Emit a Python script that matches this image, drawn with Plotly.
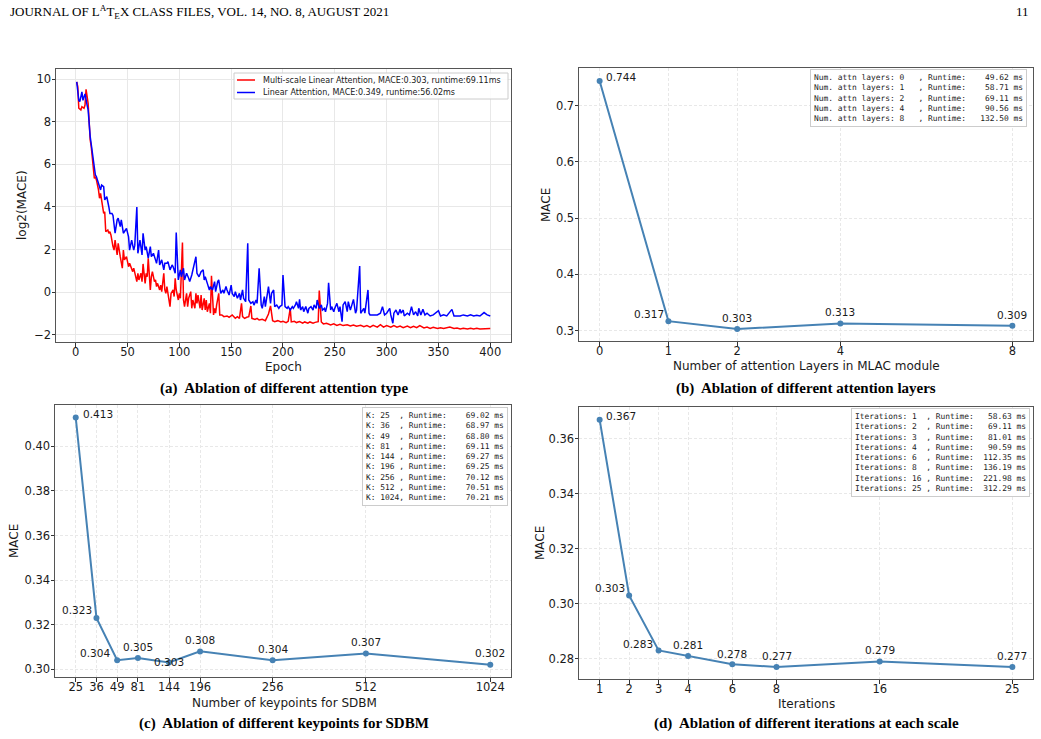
import plotly.graph_objects as go

# ---------------- data ----------------
red_epoch = [1,2,3,5,6,8,9,10,12,13,14,15,16,18,19,20,22,23,24,25,27,28,29,31,32,33,34,36,37,38,40,41,42,43,45,46,47,49,50,51,52,54,55,56,58,59,60,61,63,64,65,67,68,69,70,72,73,74,76,77,78,79,81,82,83,85,86,87,88,90,91,92,94,95,96,97,99,100,101,103,104,105,107,108,109,111,112,113,115,116,117,118,120,121,122,124,125,126,127,129,130,131,133,134,135,136,138,139,141,143,146,148,151,154,156,158,160,161,163,165,167,169,170,173,175,177,180,183,184,186,188,190,192,195,198,200,203,205,207,208,211,213,216,219,221,224,226,229,231,234,235,237,239,242,246,249,252,255,258,262,265,268,271,275,278,281,284,287,291,294,297,300,304,307,310,313,316,320,323,326,329,332,336,339,342,345,349,352,355,358,361,365,368,371,374,378,381,384,387,390,394,397,400]
red_val = [9.87,9.64,8.63,8.55,8.70,8.63,8.78,9.52,8.86,7.92,7.14,6.83,6.20,5.34,5.42,5.27,4.80,4.41,4.64,4.33,3.70,3.78,2.84,2.92,2.77,2.84,2.69,2.14,1.98,2.45,1.75,2.30,1.91,1.67,1.13,1.98,1.52,1.67,1.44,1.20,1.36,1.13,0.97,1.13,0.73,0.50,0.89,0.58,0.89,0.50,1.33,0.42,0.89,0.73,1.60,0.11,0.73,0.97,0.50,0.58,0.27,0.42,0.11,0.34,0.03,0.89,0.11,-0.05,0.27,-0.28,-0.67,-0.05,0.11,-0.20,0.66,0.11,-0.36,-0.05,-0.28,2.33,-0.36,-0.67,-0.05,-0.67,-0.28,0.03,-0.75,-0.36,-0.75,-0.05,-0.52,-0.13,-0.75,-0.13,-0.83,-0.28,-0.83,-0.36,-0.91,-0.52,-0.98,0.77,-1.06,-0.75,-0.98,-0.59,-0.05,-1.06,-1.06,-1.14,-1.11,-1.17,-1.06,-1.22,-1.14,-1.22,-0.52,-1.14,-1.22,-1.17,-1.14,-0.64,-1.22,-1.27,-1.22,-1.30,-1.27,-1.33,-1.22,-1.02,-0.64,-1.33,-1.375,-1.33,-1.39,-1.36,-1.42,-1.36,-0.75,-1.39,-1.36,-1.42,-1.375,-1.45,-1.39,-1.45,-1.39,-1.45,-1.41,-1.375,0.08,-1.39,-1.48,-1.45,-1.53,-1.48,-1.55,-1.50,-1.56,-1.52,-1.58,-1.53,-1.59,-1.55,-1.61,-1.56,-1.63,-1.55,-1.63,-1.52,-1.63,-1.56,-1.64,-1.56,-1.64,-1.58,-1.66,-1.58,-1.66,-1.59,-1.66,-1.56,-1.67,-1.63,-1.69,-1.64,-1.70,-1.66,-1.70,-1.67,-1.63,-1.70,-1.67,-1.72,-1.69,-1.72,-1.69,-1.72,-1.69,-1.72,-1.70,-1.72,-1.70]

blue_epoch = [1,3,4,6,7,9,11,12,14,15,17,19,20,22,24,25,27,28,30,32,33,35,36,38,40,41,43,44,46,48,49,51,52,54,56,57,59,60,62,64,65,67,68,70,72,73,75,77,78,80,81,83,85,86,88,89,91,93,94,96,97,99,101,102,104,105,107,109,110,112,114,116,117,119,121,123,124,125,127,129,130,132,134,135,137,138,140,142,143,145,146,148,150,151,153,154,156,158,159,161,162,164,166,167,169,171,172,174,175,177,179,180,182,183,185,186,188,189,191,192,194,196,197,199,200,202,204,205,207,209,210,212,213,215,216,217,219,220,222,224,225,227,229,230,232,233,235,237,238,240,241,243,244,246,247,249,250,252,254,255,257,258,260,262,263,265,266,268,270,271,274,275,276,278,279,282,283,284,287,291,294,296,298,300,303,304,306,307,309,311,313,314,316,317,320,322,324,326,328,330,331,333,335,337,339,342,345,348,350,352,355,358,361,363,365,368,371,374,378,381,384,387,390,394,397,400]
blue_val = [9.87,9.00,8.94,9.40,9.00,9.30,8.78,8.55,7.30,6.98,6.20,5.50,5.42,5.10,4.80,5.03,4.95,4.33,4.48,4.00,3.70,3.70,3.60,2.77,3.40,3.47,3.08,3.40,2.77,2.92,3.00,2.60,1.98,2.45,1.98,2.20,4.00,1.83,2.45,1.75,2.77,1.98,2.14,1.60,2.14,1.67,1.83,1.52,1.36,1.98,1.28,1.52,1.05,1.36,1.36,1.44,1.05,1.28,1.20,0.89,2.80,0.58,1.05,0.73,1.13,0.58,0.89,0.66,0.50,0.81,1.20,1.67,0.89,0.73,0.97,1.05,0.58,0.73,0.42,0.11,0.27,0.11,0.50,0.03,0.50,0.58,-0.05,0.11,-0.05,0.27,0.11,-0.13,0.34,-0.05,-0.20,0.03,-0.28,-0.05,-0.36,0.11,-0.28,-0.44,2.30,-0.36,-0.52,-0.44,-0.60,-0.36,-0.52,1.13,-0.60,-0.75,-0.20,-0.67,-0.05,0.27,-0.52,-0.05,0.11,-0.67,-0.60,-0.75,-0.67,-0.60,0.81,-0.67,-0.75,-0.67,-0.83,-0.67,-0.75,-0.59,-0.44,-0.75,-0.33,-0.83,-0.67,-0.91,-0.67,-0.98,-0.75,-0.67,-0.83,-0.59,-0.75,-0.36,-0.75,-0.59,-0.83,-0.75,-0.91,-0.52,0.45,-0.83,-0.67,-0.91,-0.75,-0.52,-0.91,-0.67,-1.375,-0.59,-0.44,-0.91,-0.44,-0.83,-0.67,-0.33,-0.98,-0.83,1.23,-0.98,-0.91,-0.75,-0.98,0.11,-0.98,-1.06,-1.06,-1.06,-0.98,-0.67,-1.06,-0.98,-0.75,-1.06,-1.45,-0.98,-0.83,-1.06,-0.80,-0.98,-0.83,-1.11,-0.98,-1.06,-0.67,-1.06,-0.91,-1.11,-0.75,-1.06,-0.80,-1.06,-0.98,-1.11,-1.06,-0.91,-0.86,-1.11,-1.06,-1.11,-0.91,-0.80,-1.11,-1.11,-1.11,-1.06,-1.11,-1.06,-1.11,-1.08,-1.11,-0.95,-1.06,-1.11]

red_name = "Multi-scale Linear Attention, MACE:0.303, runtime:69.11ms"
blue_name = "Linear Attention, MACE:0.349, runtime:56.02ms"

layers = [0, 1, 2, 4, 8]
layers_mace = [0.744, 0.317, 0.303, 0.313, 0.309]
layers_runtime = [49.62, 58.71, 69.11, 90.56, 132.50]

keypoints = [25, 36, 49, 81, 144, 196, 256, 512, 1024]
keypoints_mace = [0.413, 0.323, 0.304, 0.305, 0.303, 0.308, 0.304, 0.307, 0.302]
keypoints_runtime = [69.02, 68.97, 68.80, 69.11, 69.27, 69.25, 70.12, 70.51, 70.21]

iterations = [1, 2, 3, 4, 6, 8, 16, 25]
iterations_mace = [0.367, 0.303, 0.283, 0.281, 0.278, 0.277, 0.279, 0.277]
iterations_runtime = [58.63, 69.11, 81.01, 90.59, 112.35, 136.19, 221.98, 312.29]

# ---------------- axis scales (non-uniform tick slots of the original figure) ----------------
layer_slot = {0: 0, 1: 1, 2: 2, 4: 3.5, 8: 6}
keypoint_slot = {25: 0, 36: 1, 49: 2, 81: 3, 144: 4.5, 196: 6, 256: 9.5, 512: 14, 1024: 20}
iteration_slot = {1: 0, 2: 1, 3: 2, 4: 3, 6: 4.5, 8: 6, 16: 9.5, 25: 14}

W, H = 1041, 739
def px(x):
    return x / W
def py(y):
    return 1 - y / H

STEEL = "#4682b4"
TXT = "#1a1a1a"
FONT = "DejaVu Sans"
SERIF = "Liberation Serif"
TICK = 11.5
LABEL = 12
PLAB = 10.5

fig = go.Figure()

# panel (a)
fig.add_trace(go.Scatter(x=red_epoch, y=red_val, mode="lines", name=red_name,
                         line=dict(color="#ff0000", width=1.5), xaxis="x", yaxis="y"))
fig.add_trace(go.Scatter(x=blue_epoch, y=blue_val, mode="lines", name=blue_name,
                         line=dict(color="#0000ff", width=1.5), xaxis="x", yaxis="y"))

# panels (b) (c) (d)
for xs, ys, ax in [([layer_slot[v] for v in layers], layers_mace, "2"),
                   ([keypoint_slot[v] for v in keypoints], keypoints_mace, "3"),
                   ([iteration_slot[v] for v in iterations], iterations_mace, "4")]:
    fig.add_trace(go.Scatter(x=xs, y=ys, mode="lines+markers",
                             line=dict(color=STEEL, width=2), marker=dict(size=6, color=STEEL),
                             showlegend=False, xaxis="x" + ax, yaxis="y" + ax))

def axis(domain, rng, anchor, dash, is_x, **kw):
    d = dict(domain=domain, range=rng, anchor=anchor, showline=True, mirror=True,
             linecolor="#555555", linewidth=1, ticks="outside", ticklen=3.5, tickcolor="#333333",
             showgrid=True, gridcolor="#e8e8e8", griddash=dash, gridwidth=1, zeroline=False,
             ticklabelstandoff=(-4 if is_x else -2),
             tickfont=dict(family=FONT, size=TICK, color=TXT))
    d.update(kw)
    return d

DASH = "3px,2px"
layout = dict(
    width=W, height=H, margin=dict(l=0, r=0, t=0, b=0),
    paper_bgcolor="white", plot_bgcolor="white", showlegend=False,
    xaxis=axis([px(56), px(511)], [-19, 420], "y", "solid", True,
               tickvals=[0, 50, 100, 150, 200, 250, 300, 350, 400]),
    yaxis=axis([py(342), py(69)], [-2.33, 10.47], "x", "solid", False, tickvals=[-2, 0, 2, 4, 6, 8, 10],
               ticktext=["\u22122", "0", "2", "4", "6", "8", "10"]),
    xaxis2=axis([px(579), px(1033)], [-0.3, 6.3], "y2", DASH, True,
                tickvals=[layer_slot[v] for v in layers], ticktext=[str(v) for v in layers]),
    yaxis2=axis([py(341), py(68)], [0.2817, 0.767], "x2", DASH, False, tickvals=[0.3, 0.4, 0.5, 0.6, 0.7],
                ticktext=["0.3", "0.4", "0.5", "0.6", "0.7"]),
    xaxis3=axis([px(55), px(511)], [-1, 21], "y3", DASH, True,
                tickvals=[keypoint_slot[v] for v in keypoints], ticktext=[str(v) for v in keypoints]),
    yaxis3=axis([py(677), py(405)], [0.2965, 0.4186], "x3", DASH, False,
                tickvals=[0.30, 0.32, 0.34, 0.36, 0.38, 0.40],
                ticktext=["0.30", "0.32", "0.34", "0.36", "0.38", "0.40"]),
    xaxis4=axis([px(579), px(1033)], [-0.7, 14.7], "y4", DASH, True,
                tickvals=[iteration_slot[v] for v in iterations], ticktext=[str(v) for v in iterations]),
    yaxis4=axis([py(679), py(407)], [0.2726, 0.3716], "x4", DASH, False,
                tickvals=[0.28, 0.30, 0.32, 0.34, 0.36],
                ticktext=["0.28", "0.30", "0.32", "0.34", "0.36"]),
)
fig.update_layout(**layout)

ann = []
def text(x, y, s, size=LABEL, family=FONT, **kw):
    d = dict(x=x, y=y, xref="paper", yref="paper", text=s, showarrow=False,
             font=dict(family=family, size=size, color=kw.pop("color", TXT)))
    d.update(kw)
    ann.append(d)

# header
text(px(8), py(12), "JOURNAL OF L<sup>A</sup>T<sub>E</sub>X CLASS FILES, VOL. 14, NO. 8, AUGUST 2021", size=13,
     family=SERIF, xanchor="left", yanchor="middle", color="#000")
text(px(1031), py(12), "11", size=13, family=SERIF, xanchor="right", yanchor="middle", color="#000")

# axis titles
text(px(283), py(367), "Epoch", xanchor="center", yanchor="middle")
text(px(22), py(205), "log2(MACE)", textangle=-90, xanchor="center", yanchor="middle")
text(px(806), py(366), "Number of attention Layers in MLAC module", xanchor="center", yanchor="middle")
text(px(546), py(205), "MACE", textangle=-90, xanchor="center", yanchor="middle")
text(px(284), py(703), "Number of keypoints for SDBM", xanchor="center", yanchor="middle")
text(px(14), py(541), "MACE", textangle=-90, xanchor="center", yanchor="middle")
text(px(806), py(704), "Iterations", xanchor="center", yanchor="middle")
text(px(540), py(543), "MACE", textangle=-90, xanchor="center", yanchor="middle")

# captions
CAP = 15
text(px(284), py(388), "<b>(a)  Ablation of different attention type</b>", size=CAP, family=SERIF,
     xanchor="center", yanchor="middle", color="#000")
text(px(806), py(388), "<b>(b)  Ablation of different attention layers</b>", size=CAP, family=SERIF,
     xanchor="center", yanchor="middle", color="#000")
text(px(284), py(723), "<b>(c)  Ablation of different keypoints for SDBM</b>", size=CAP, family=SERIF,
     xanchor="center", yanchor="middle", color="#000")
text(px(806), py(723), "<b>(d)  Ablation of different iterations at each scale</b>", size=CAP, family=SERIF,
     xanchor="center", yanchor="middle", color="#000")

# legend of panel (a): frame, line samples and labels
shapes = [
    dict(type="rect", xref="paper", yref="paper", x0=px(234), x1=px(508), y0=py(99), y1=py(73),
         line=dict(color="#cccccc", width=1), fillcolor="rgba(255,255,255,0.85)", layer="above"),
    dict(type="line", xref="paper", yref="paper", x0=px(237), x1=px(255), y0=py(80), y1=py(80),
         line=dict(color="#ff0000", width=1.5), layer="above"),
    dict(type="line", xref="paper", yref="paper", x0=px(237), x1=px(255), y0=py(92.5), y1=py(92.5),
         line=dict(color="#0000ff", width=1.5), layer="above"),
]
fig.update_layout(shapes=shapes)
text(px(261), py(80), red_name, size=8, xanchor="left", yanchor="middle")
text(px(261), py(92.5), blue_name, size=8, xanchor="left", yanchor="middle")

# point labels
def point_labels(xs, ys, xref, yref, offsets):
    for xv, yv, (dx, dy) in zip(xs, ys, offsets):
        ann.append(dict(x=xv, y=yv, xref=xref, yref=yref, text=f"{yv:.3f}", showarrow=False,
                        xshift=dx, yshift=dy, font=dict(family=FONT, size=PLAB, color=TXT)))

point_labels([layer_slot[v] for v in layers], layers_mace, "x2", "y2",
             [(21, 4), (-19, 7.5), (0, 11), (0, 11), (0, 11)])
point_labels([keypoint_slot[v] for v in keypoints], keypoints_mace, "x3", "y3",
             [(22, 3.5), (-19, 7.5), (-22, 7.5), (0, 11), (0, 1), (0, 11), (0, 11), (0, 12), (0, 12)])
point_labels([iteration_slot[v] for v in iterations], iterations_mace, "x4", "y4",
             [(21, 4), (-19, 7), (-21, 6.5), (0, 10.5), (0, 10.5), (0, 11), (0, 11), (0, 11)])

# runtime boxes (monospace)
NB = "\u00a0"
def mono_box(lines, xr, yt):
    s = "<br>".join(l.replace(" ", NB) for l in lines)
    ann.append(dict(x=xr, y=yt, xref="paper", yref="paper", text=s, showarrow=False,
                    xanchor="right", yanchor="top", align="left",
                    font=dict(family="DejaVu Sans Mono", size=7.9, color=TXT),
                    bgcolor="white", bordercolor="#cccccc", borderwidth=1, borderpad=3))

mono_box([f"Num. attn layers: {v:<4}, Runtime: {r:8.2f} ms" for v, r in zip(layers, layers_runtime)],
         px(1027), py(69))
mono_box([f"K: {v:<4}, Runtime: {r:8.2f} ms" for v, r in zip(keypoints, keypoints_runtime)],
         px(508), py(407))
mono_box([f"Iterations: {v:<3}, Runtime: {r:7.2f} ms" for v, r in zip(iterations, iterations_runtime)],
         px(1030), py(408))

fig.update_layout(annotations=ann)
fig.write_html("out.html")
